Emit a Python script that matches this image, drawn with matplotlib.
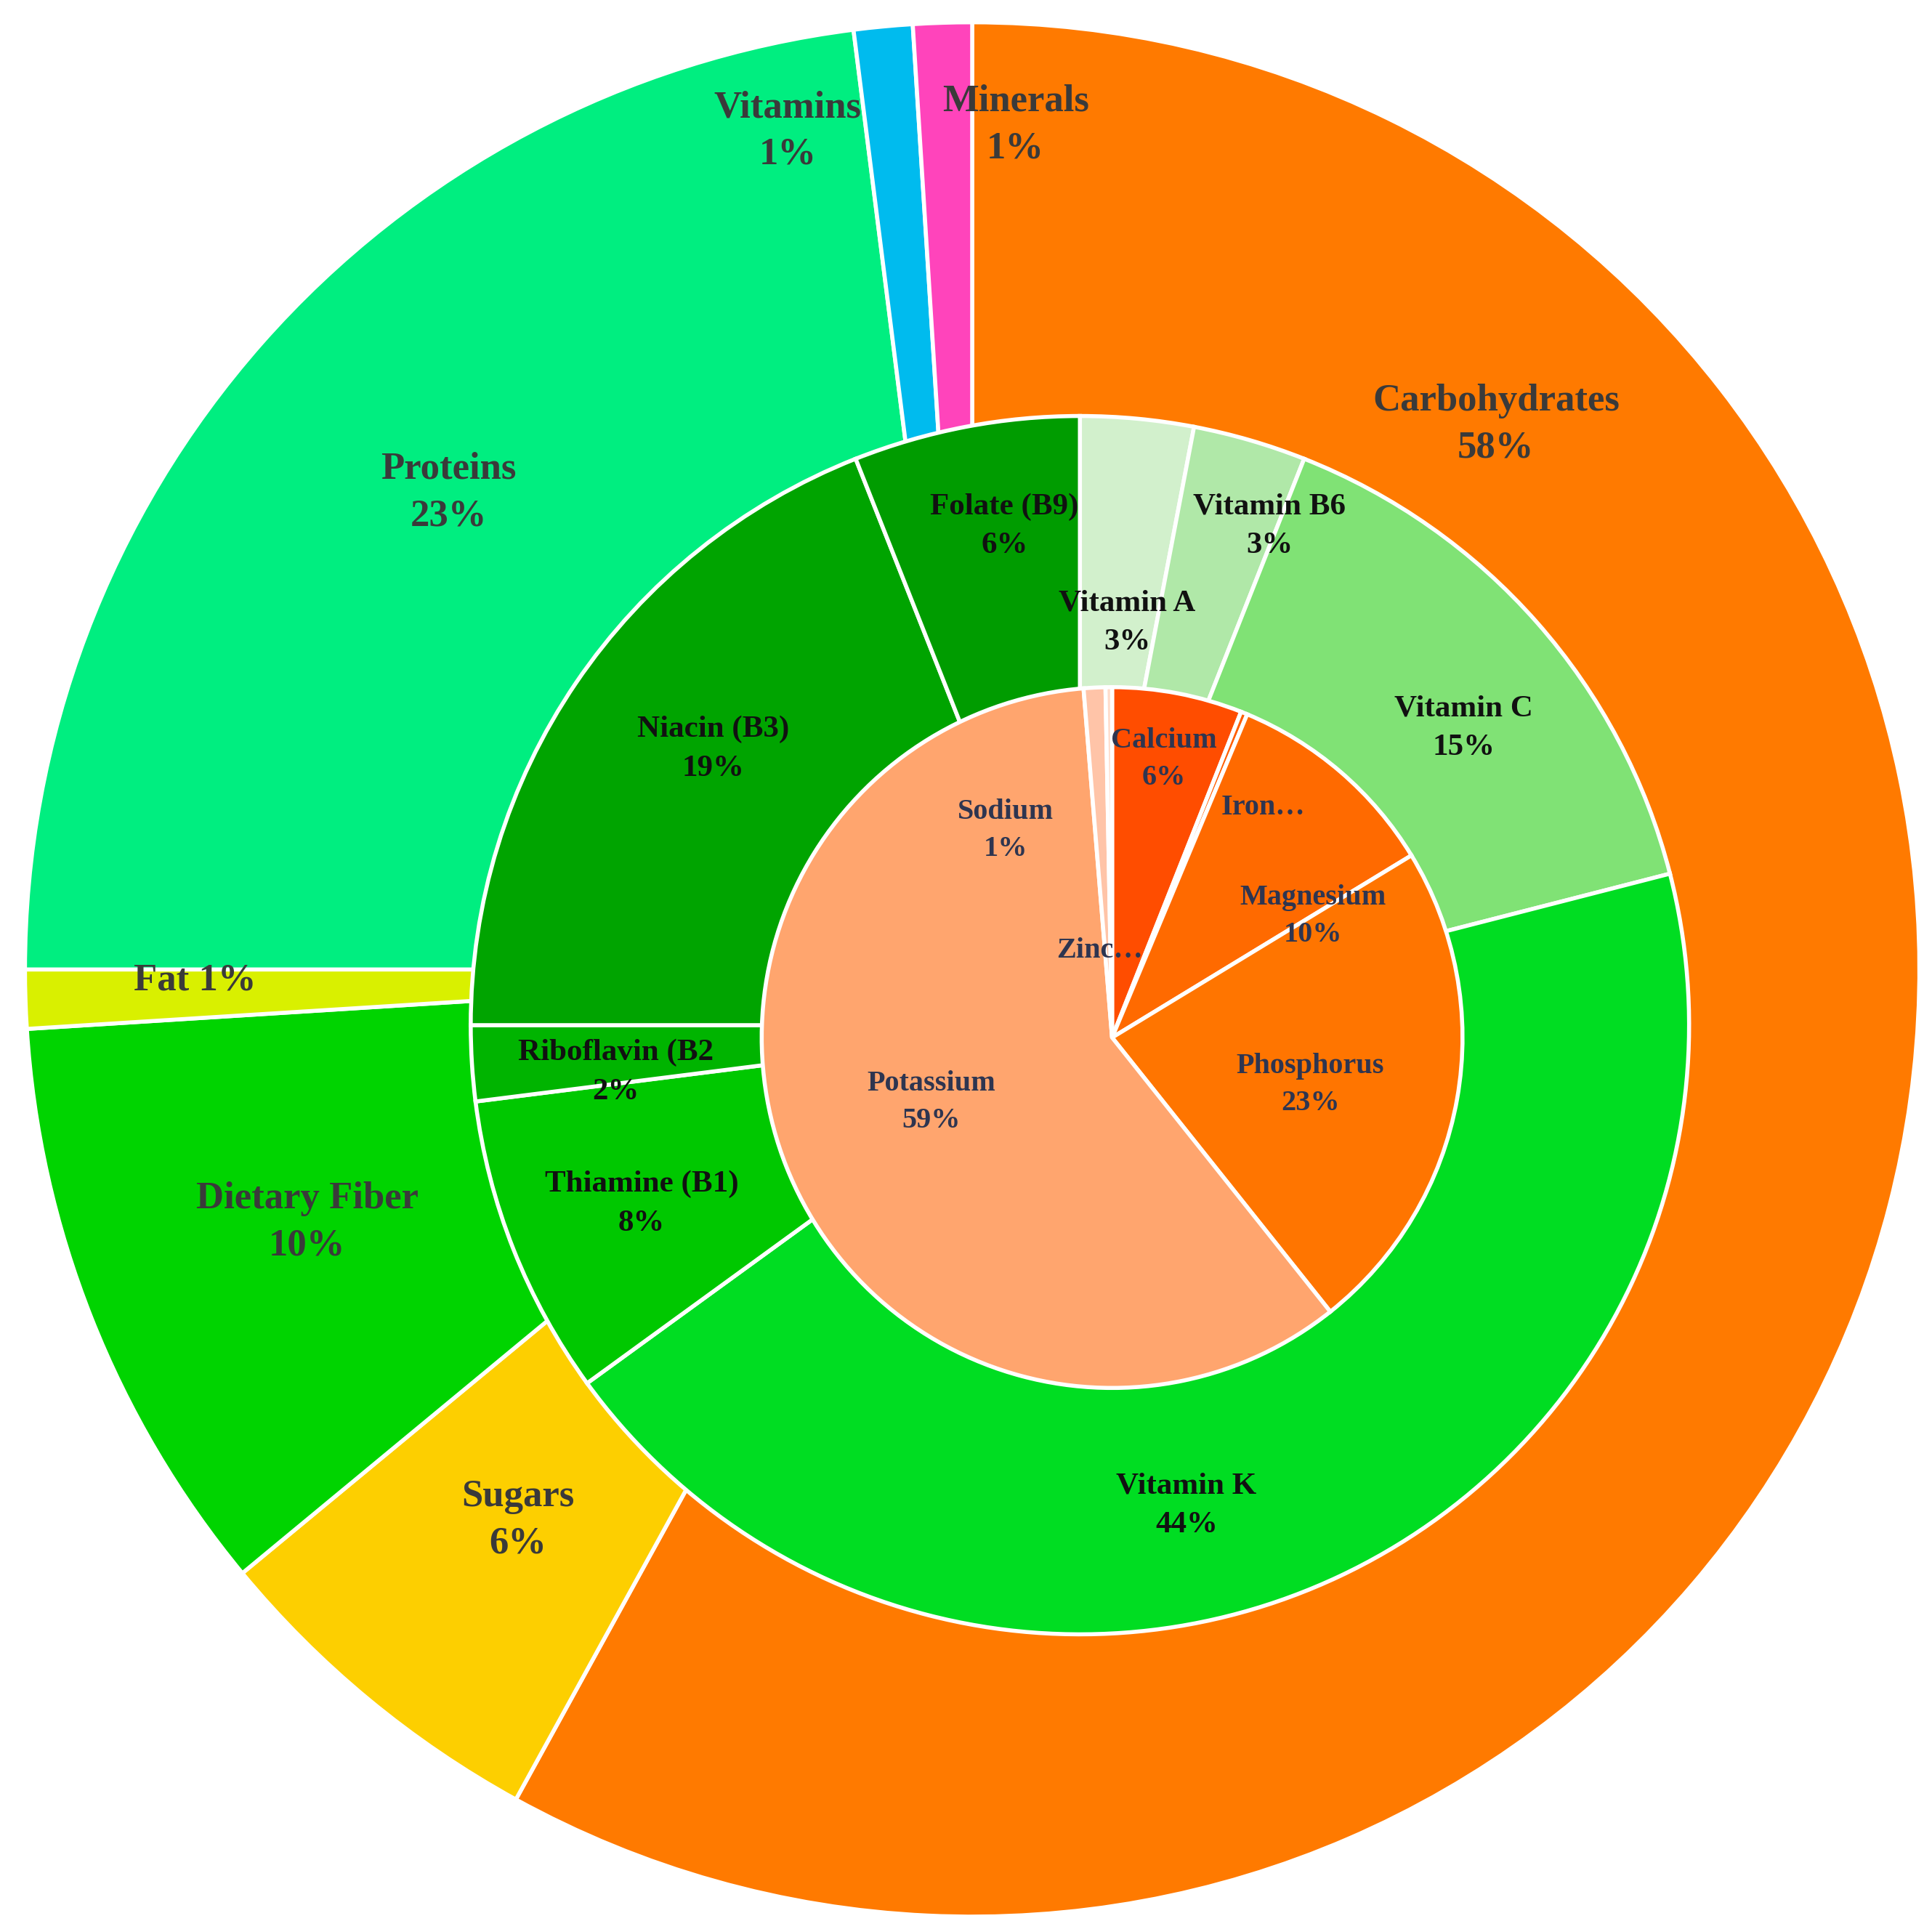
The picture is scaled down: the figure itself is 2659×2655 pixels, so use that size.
import matplotlib
matplotlib.use("Agg")
import matplotlib.pyplot as plt

# ---- data ----
outer_labels = ["Carbohydrates", "Sugars", "Dietary Fiber", "Fat", "Proteins", "Vitamins", "Minerals"]
outer_values = [58, 6, 10, 1, 23, 1, 1]
outer_colors = ["#FF7A00", "#FDCF00", "#00D400", "#D9F000", "#00EE80", "#00BBEE", "#FF44BB"]

mid_labels = ["Vitamin A", "Vitamin B6", "Vitamin C", "Vitamin K", "Thiamine (B1)", "Riboflavin (B2", "Niacin (B3)", "Folate (B9)"]
mid_values = [3, 3, 15, 44, 8, 2, 19, 6]
mid_colors = ["#D2F0CC", "#B0E8A8", "#80E275", "#00DD22", "#00C800", "#00B400", "#00A400", "#009C00"]

inner_labels = ["Calcium", "Iron…", "Magnesium", "Phosphorus", "Potassium", "Sodium", "Zinc…"]
inner_values = [6, 0.3, 10, 23, 59.4, 1, 0.3]
inner_colors = ["#FF4D00", "#FF5E00", "#FF6A00", "#FF7500", "#FFA56E", "#FFC4A8", "#FFDCCB"]

# ---- layout (display coordinates of reference, y from top) ----
H = 1558
outer_geom = (785, 783, 765)
mid_geom = (872, 828, 492)
inner_geom = (898, 838, 283)
outer_pos = [(1208, 343), (418, 1228), (248, 987), (157, 792), (362, 398), (636, 106), (820, 101)]
mid_pos = [(910, 503), (1025, 425), (1182, 588), (958, 1216), (518, 972), (497, 866), (576, 605), (811, 425)]
inner_pos = [(940, 613), (1020, 652), (1060, 740), (1058, 876), (752, 890), (812, 671), (888, 768)]

fig = plt.figure(figsize=(26.59, 26.55), dpi=100)
ax = fig.add_axes([0, 0, 1, 1])
ax.set_xlim(0, 1560)
ax.set_ylim(0, H)
ax.set_aspect("equal")
ax.axis("off")

serif = ["Liberation Serif", "DejaVu Serif"]

def ring(values, colors, geom, lw):
    cx, cy, r = geom
    ax.pie(values, colors=colors, radius=r, center=(cx, H - cy), startangle=90,
           counterclock=False, wedgeprops=dict(edgecolor="white", linewidth=lw),
           frame=True)

ring(outer_values, outer_colors, outer_geom, 4)
ring(mid_values, mid_colors, mid_geom, 4)
ring(inner_values, inner_colors, inner_geom, 4)
ax.set_xlim(0, 1560)
ax.set_ylim(0, H)
ax.axis("off")

def fmt(v):
    return f"{round(v):d}%"

for lab, v, (x, y) in zip(outer_labels, outer_values, outer_pos):
    s = f"{lab} {fmt(v)}" if lab == "Fat" else f"{lab}\n{fmt(v)}"
    ax.text(x, H - y, s, ha="center", va="center", fontsize=38, fontweight="bold",
            color="#3a3a3a", family=serif, linespacing=1.45)
for lab, v, (x, y) in zip(mid_labels, mid_values, mid_pos):
    ax.text(x, H - y, f"{lab}\n{fmt(v)}", ha="center", va="center", fontsize=31,
            fontweight="bold", color="#111111", family=serif, linespacing=1.55)
for lab, v, (x, y) in zip(inner_labels, inner_values, inner_pos):
    s = lab if lab.endswith("…") else f"{lab}\n{fmt(v)}"
    ax.text(x, H - y, s, ha="center", va="center", fontsize=29, fontweight="bold",
            color="#2e3550", family=serif, linespacing=1.5)

fig.savefig("out.png", dpi=100)
